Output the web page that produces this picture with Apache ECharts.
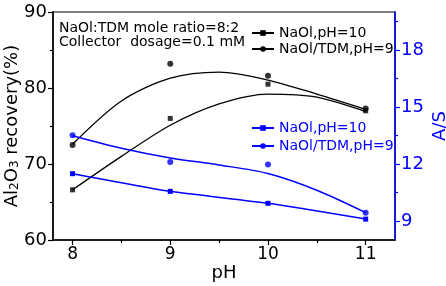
<!DOCTYPE html>
<html>
<head>
<meta charset="utf-8">
<script src="https://cdn.jsdelivr.net/npm/echarts@6/dist/echarts.min.js"></script>
<style>html,body{margin:0;padding:0;background:#fff}#c{width:446px;height:286px}</style>
</head>
<body>
<div id="c"></div>
<script>
// pH categories (x values)
const ph = [8, 9, 10, 11];
// Al2O3 recovery (%) - left axis
const recNaOl = [66.6, 76.0, 80.5, 77.0];
const recMix = [72.5, 83.2, 81.6, 77.3];
// A/S - right axis
const asNaOl = [11.49, 10.56, 9.93, 9.10];
const asMix = [13.51, 12.10, 11.98, 9.44];
// fitted curves
const fitPh = [8, 8.5, 9, 9.5, 10, 10.5, 11];
const fitRecNaOl = [66.6, 71.0, 75.1, 77.9, 79.2, 78.8, 76.9];
const fitRecMix = [72.6, 78.3, 81.3, 82.1, 81.05, 79.2, 77.2];
const fitAsMix = [13.49, 12.83, 12.32, 11.95, 11.50, 10.62, 9.44];
// tick labels
const xTicks = [8, 9, 10, 11];
const xMinor = [8.5, 9.5, 10.5];
const rightTicks = [9, 12, 15, 18];
const rightMinor = [10.5, 13.5, 16.5, 19.5];

const BLUE = '#0000ff';
const FONT = 'DejaVu Sans';
const pair = (xs, ys) => xs.map((x, i) => [x, ys[i]]);

const chart = echarts.init(document.getElementById('c'), null, {renderer: 'canvas'});
chart.setOption({
  animation: false,
  backgroundColor: '#fff',
  grid: {left: 53, right: 51, top: 12, bottom: 46, show: true, borderColor: '#000', borderWidth: 1.2,
         containLabel: false, outerBoundsMode: 'none'},
  title: {
    text: 'NaOl:TDM mole ratio=8:2\nCollector  dosage=0.1 mM',
    left: 59, top: 21, padding: 0,
    textStyle: {fontFamily: FONT, fontSize: 14, fontWeight: 'normal', color: '#000', lineHeight: 14}
  },
  legend: [
    {
      data: ['NaOl,pH=10', 'NaOl/TDM,pH=9'],
      orient: 'vertical', left: 251, top: 26, padding: 0,
      itemWidth: 22, itemHeight: 7, itemGap: 2,
      textStyle: {fontFamily: FONT, fontSize: 14, color: '#000'}
    },
    {
      data: ['A/S NaOl,pH=10', 'A/S NaOl/TDM,pH=9'],
      orient: 'vertical', left: 251, top: 121, padding: 0,
      itemWidth: 22, itemHeight: 7, itemGap: 4,
      formatter: n => n.replace('A/S ', ''),
      textStyle: {fontFamily: FONT, fontSize: 14, color: BLUE}
    }
  ],
  xAxis: [
    {
      type: 'value', min: 7.8, max: 11.3, name: 'pH', nameLocation: 'middle', nameGap: 24,
      nameMoveOverlap: false,
      nameTextStyle: {fontFamily: FONT, fontSize: 18, color: '#000'},
      axisLine: {lineStyle: {color: '#000', width: 1.5}},
      axisTick: {customValues: xTicks, length: 5, lineStyle: {color: '#000', width: 1.2}},
      axisLabel: {customValues: xTicks, fontFamily: FONT, fontSize: 17, color: '#000', margin: 6},
      splitLine: {show: false}
    },
    {
      type: 'value', min: 7.8, max: 11.3, position: 'bottom',
      axisLine: {show: false},
      axisTick: {customValues: xMinor, length: 3, lineStyle: {color: '#000', width: 1.2}},
      axisLabel: {show: false}, splitLine: {show: false}
    }
  ],
  yAxis: [
    {
      type: 'value', min: 60, max: 90, interval: 10, position: 'left',
      name: '{a|Al}{s|2}{a|O}{s|3}{a| recovery(%)}', nameLocation: 'middle', nameGap: 32,
      nameMoveOverlap: false,
      nameTextStyle: {
        rich: {
          a: {fontFamily: FONT, fontSize: 18, color: '#000', lineHeight: 18, verticalAlign: 'middle'},
          s: {fontFamily: FONT, fontSize: 12, color: '#000', lineHeight: 18, verticalAlign: 'bottom'}
        }
      },
      axisLine: {show: true, lineStyle: {color: '#000', width: 1.5}},
      axisTick: {length: 5, lineStyle: {color: '#000', width: 1.2}},
      minorTick: {show: true, splitNumber: 2, length: 3, lineStyle: {color: '#000', width: 1.2}},
      axisLabel: {fontFamily: FONT, fontSize: 18, color: '#000', margin: 6},
      splitLine: {show: false}
    },
    {
      type: 'value', min: 8, max: 20, position: 'right',
      name: 'A/S', nameLocation: 'middle', nameGap: 36, nameRotate: 90,
      nameMoveOverlap: false,
      nameTextStyle: {fontFamily: FONT, fontSize: 18, color: BLUE},
      axisLine: {show: true, lineStyle: {color: BLUE, width: 1.5}},
      axisTick: {customValues: rightTicks, length: 5, lineStyle: {color: BLUE, width: 1.2}},
      axisLabel: {customValues: rightTicks, fontFamily: FONT, fontSize: 18, color: BLUE, margin: 6},
      splitLine: {show: false}
    },
    {
      type: 'value', min: 8, max: 20, position: 'right',
      axisLine: {show: false},
      axisTick: {customValues: rightMinor, length: 3, lineStyle: {color: BLUE, width: 1.2}},
      axisLabel: {show: false}, splitLine: {show: false}
    }
  ],
  series: [
    {
      name: 'NaOl,pH=10', type: 'line', yAxisIndex: 0, smooth: 0.3,
      data: pair(fitPh, fitRecNaOl), showSymbol: false, symbol: 'rect', symbolSize: 5,
      lineStyle: {color: '#000', width: 1.3}, itemStyle: {color: '#000'}
    },
    {
      name: 'NaOl/TDM,pH=9', type: 'line', yAxisIndex: 0, smooth: 0.3,
      data: pair(fitPh, fitRecMix), showSymbol: false, symbol: 'circle', symbolSize: 5,
      lineStyle: {color: '#000', width: 1.3}, itemStyle: {color: '#000'}
    },
    {
      name: 'ptsRecNaOl', type: 'scatter', yAxisIndex: 0, symbol: 'rect', symbolSize: 5,
      data: pair(ph, recNaOl), itemStyle: {color: '#000'}
    },
    {
      name: 'ptsRecMix', type: 'scatter', yAxisIndex: 0, symbol: 'circle', symbolSize: 6,
      data: pair(ph, recMix), itemStyle: {color: '#000'}
    },
    {
      name: 'A/S NaOl,pH=10', type: 'line', yAxisIndex: 1, smooth: 0.2,
      data: pair(ph, asNaOl), symbol: 'rect', symbolSize: 5,
      lineStyle: {color: BLUE, width: 1.5}, itemStyle: {color: BLUE}
    },
    {
      name: 'A/S NaOl/TDM,pH=9', type: 'line', yAxisIndex: 1, smooth: 0.3,
      data: pair(fitPh, fitAsMix), showSymbol: false, symbol: 'circle', symbolSize: 5,
      lineStyle: {color: BLUE, width: 1.5}, itemStyle: {color: BLUE}
    },
    {
      name: 'ptsAsMix', type: 'scatter', yAxisIndex: 1, symbol: 'circle', symbolSize: 6,
      data: pair(ph, asMix), itemStyle: {color: BLUE}
    }
  ]
});
</script>
</body>
</html>
